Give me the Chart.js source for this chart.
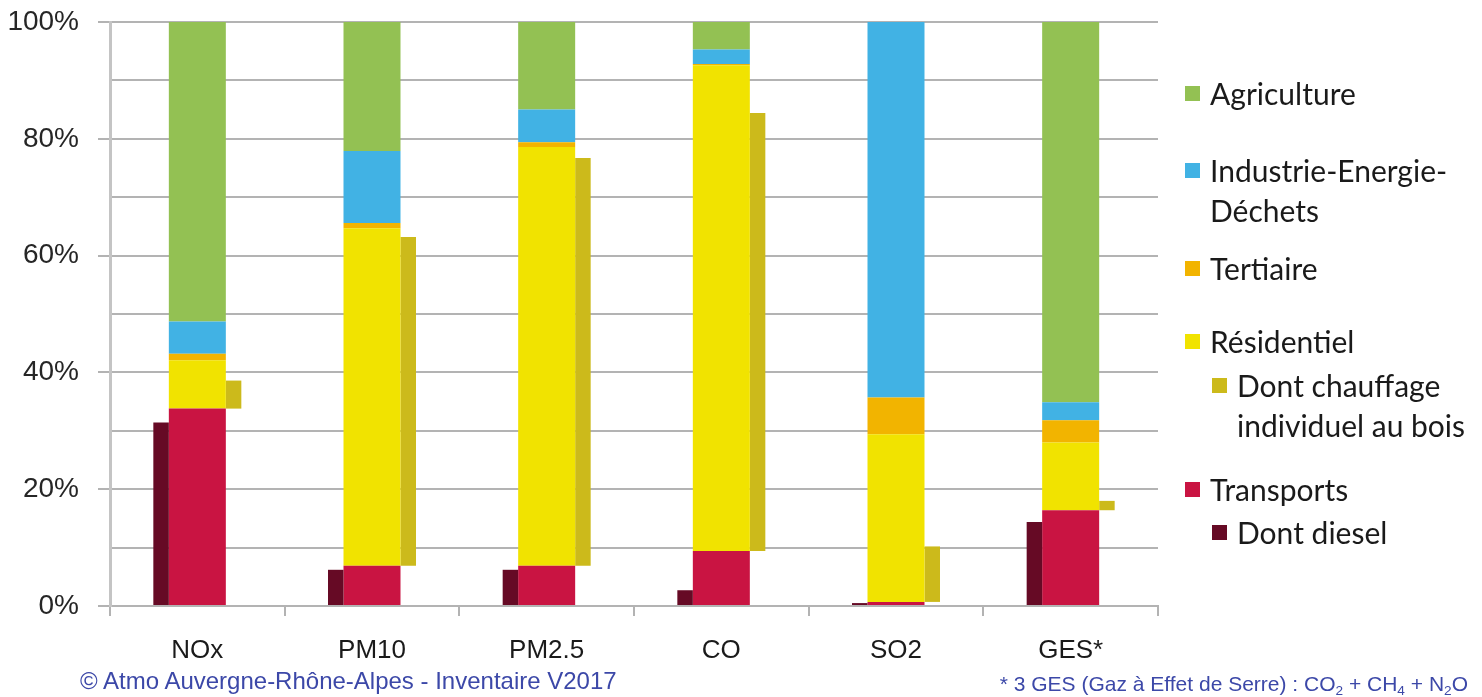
<!DOCTYPE html>
<html>
<head>
<meta charset="utf-8">
<script src="https://cdn.jsdelivr.net/npm/chart.js@4"></script>
<style>
body{margin:0;background:#fff;width:1482px;height:697px;overflow:hidden;position:relative}
#wrap{position:absolute;left:0;top:0;width:1482px;height:697px}
.leg{position:absolute;font-family:Lato,"Open Sans",sans-serif;font-size:30px;color:#1a1a1a;line-height:40px;white-space:nowrap}
.leg i{position:absolute;width:15px;height:15px;left:-25px;top:13px}
.foot{position:absolute;font-family:"Liberation Sans",Arial,sans-serif;color:#3c48a8;white-space:nowrap}
.foot sub{font-size:65%;vertical-align:-4px;line-height:0}
</style>
</head>
<body>
<div id="wrap"><canvas id="chart" width="1482" height="697"></canvas></div>

<div class="leg" style="left:1210px;top:73px"><i style="background:#93c153"></i>Agriculture</div>
<div class="leg" style="left:1210px;top:150px"><i style="background:#41b2e4"></i>Industrie-Energie-<br>Déchets</div>
<div class="leg" style="left:1210px;top:248px"><i style="background:#f2b400"></i>Tertiaire</div>
<div class="leg" style="left:1210px;top:321px"><i style="background:#f1e300"></i>Résidentiel</div>
<div class="leg" style="left:1237px;top:365px"><i style="background:#ccba1b"></i>Dont chauffage<br>individuel au bois</div>
<div class="leg" style="left:1210px;top:469px"><i style="background:#c91442"></i>Transports</div>
<div class="leg" style="left:1237px;top:512px"><i style="background:#660a25"></i>Dont diesel</div>

<div class="foot" style="left:80px;top:667px;font-size:24px">© Atmo Auvergne-Rhône-Alpes - Inventaire V2017</div>
<div class="foot" style="right:14px;top:672px;font-size:21px">* 3 GES (Gaz à Effet de Serre) : CO<sub>2</sub> + CH<sub>4</sub> + N<sub>2</sub>O</div>

<script>
// valeurs (% des emissions)
const categories=["NOx","PM10","PM2.5","CO","SO2","GES*"]
const transports=[33.8,6.9,6.9,9.4,0.7,16.4]
const residentiel=[8.3,57.8,71.7,83.2,28.7,11.6]
const tertiaire=[1.1,0.9,0.8,0.2,6.3,3.8]
const industrie=[5.5,12.3,5.6,2.5,64.3,3.1]
const agriculture=[51.3,22.1,15.0,4.7,0,65.1]
const diesel=[31.4,6.2,6.2,2.7,0.5,14.4]
const chauffageBois=[4.8,56.3,69.8,75.0,9.5,1.6]
const yTicks=[0,20,40,60,80,100]

const GRID="#b3b3b3"

// barres fines de part et d'autre de la pile principale
const side={categoryPercentage:0.6226,barPercentage:0.4276}
const main={categoryPercentage:1,barPercentage:0.979}

const boisBars=chauffageBois.map((v,i)=>[transports[i],transports[i]+v])

const ctx=document.getElementById("chart").getContext("2d")

new Chart(ctx,{
type:"bar",
data:{
labels:categories,
datasets:[
{label:"Dont diesel",data:diesel,backgroundColor:"#660a25",stack:"a",...side},
{label:"Transports",data:transports,backgroundColor:"#c91442",stack:"b",...main},
{label:"Résidentiel",data:residentiel,backgroundColor:"#f1e300",stack:"b",...main},
{label:"Tertiaire",data:tertiaire,backgroundColor:"#f2b400",stack:"b",...main},
{label:"Industrie-Energie-Déchets",data:industrie,backgroundColor:"#41b2e4",stack:"b",...main},
{label:"Agriculture",data:agriculture,backgroundColor:"#93c153",stack:"b",...main},
{label:"Dont chauffage individuel au bois",data:boisBars,backgroundColor:"#ccba1b",stack:"c",...side}
]
},
options:{
responsive:false,
devicePixelRatio:1,
animation:false,
layout:{padding:{left:0,right:324,top:22,bottom:31}},
plugins:{legend:{display:false},tooltip:{enabled:false}},
scales:{
x:{
stacked:true,
afterFit:s=>{s.height=60},
border:{display:true,color:GRID,width:2},
grid:{
offset:true,
lineWidth:2,
color:c=>c.index===categories.length?GRID:"transparent",
tickColor:GRID,
tickLength:10
},
ticks:{
padding:19,
color:"#1a1a1a",
font:{family:"'Liberation Sans',sans-serif",size:26}
}
},
y:{
stacked:true,
min:0,
max:100,
afterFit:s=>{s.width=110;s.paddingTop=0;s.paddingBottom=0},
border:{display:true,color:"#c4c4c4",width:3},
grid:{
lineWidth:2,
color:GRID,
tickColor:c=>c.tick&&yTicks.includes(c.tick.value)?GRID:"transparent",
tickLength:12
},
ticks:{
stepSize:10,
padding:19,
color:"#262626",
font:{family:"'Liberation Sans',sans-serif",size:28},
callback:v=>yTicks.includes(v)?v+"%":""
}
}
}
}
})
</script>
</body>
</html>
